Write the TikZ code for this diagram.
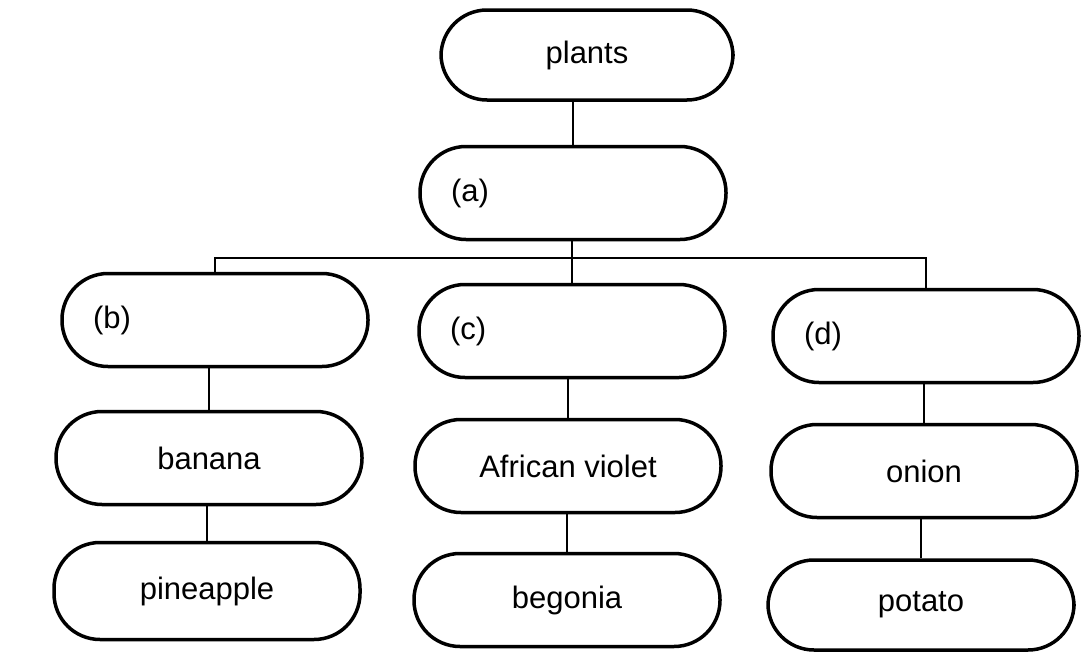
\documentclass[tikz,border=0pt]{standalone}
\usepackage{fontspec}
\setmainfont{Liberation Sans}
\usepackage{tikz}

\begin{document}
\begin{tikzpicture}[x=1pt, y=-1pt,
    box/.style={draw, line width=3.5pt, rounded corners=46pt, minimum width=306pt,
        minimum height=93pt, inner sep=0pt, font=\fontsize{31}{37}\selectfont},
    tagbox/.style={box, text width=244pt, align=left, inner xsep=31pt},
    link/.style={line width=2pt}]
    \useasboundingbox (0, 0) rectangle (1082, 653);

    \node[box, minimum width=292pt, minimum height=90pt] at (587, 55) (plants) {plants};
    \node[tagbox] at (573, 193) (a) {(a)};

    \node[tagbox] at (215, 320) (b) {(b)};
    \node[tagbox] at (572, 331) (c) {(c)};
    \node[tagbox] at (926, 336) (d) {(d)};

    \node[box] at (209, 458) (banana) {banana};
    \node[box] at (568, 466) (violet) {African violet};
    \node[box] at (924, 471) (onion) {onion};

    \node[box, minimum height=97pt] at (207, 591) (pineapple) {pineapple};
    \node[box] at (567, 600) (begonia) {begonia};
    \node[box, minimum height=90pt] at (921, 605) (potato) {potato};

    % bar joining (a) to its three groups
    \coordinate (bar) at (0, 258);

    \draw[link] (a.north) -- (a.north |- plants.south);
    \draw[link] (c.north) -- (c.north |- a.south);
    \draw[link] (b.north) -- (b.north |- bar) -- (d.north |- bar) -- (d.north);

    \draw[link] (banana.north) -- (banana.north |- b.south);
    \draw[link] (violet.north) -- (violet.north |- c.south);
    \draw[link] (onion.north) -- (onion.north |- d.south);

    \draw[link] (pineapple.north) -- (pineapple.north |- banana.south);
    \draw[link] (begonia.north) -- (begonia.north |- violet.south);
    \draw[link] (potato.north) -- (potato.north |- onion.south);
\end{tikzpicture}
\end{document}
